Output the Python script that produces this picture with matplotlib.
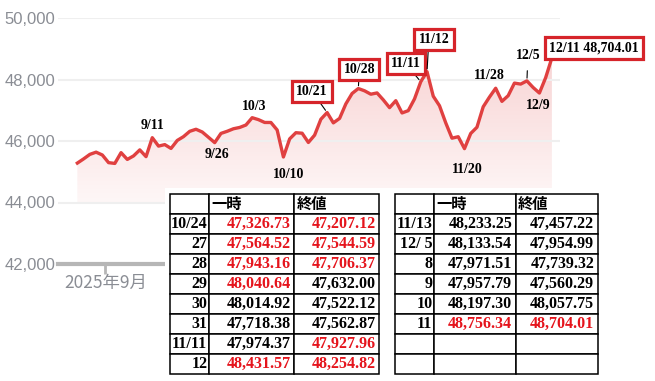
import numpy as np
import matplotlib
matplotlib.use('Agg')
import matplotlib.pyplot as plt
from matplotlib.colors import LinearSegmentedColormap
from matplotlib.patches import Polygon, Rectangle

# trading days (US close)
dates = ['08/25', '08/26', '08/27', '08/28', '08/29',
         '09/02', '09/03', '09/04', '09/05', '09/08', '09/09', '09/10', '09/11', '09/12',
         '09/15', '09/16', '09/17', '09/18', '09/19', '09/22', '09/23', '09/24', '09/25',
         '09/26', '09/29', '09/30',
         '10/01', '10/02', '10/03', '10/06', '10/07', '10/08', '10/09', '10/10', '10/13',
         '10/14', '10/15', '10/16', '10/17', '10/20', '10/21', '10/22', '10/23', '10/24',
         '10/27', '10/28', '10/29', '10/30', '10/31',
         '11/03', '11/04', '11/05', '11/06', '11/07', '11/10', '11/11', '11/12', '11/13',
         '11/14', '11/17', '11/18', '11/19', '11/20', '11/21', '11/24', '11/25', '11/26',
         '11/28',
         '12/01', '12/02', '12/03', '12/04', '12/05', '12/08', '12/09', '12/10', '12/11']
close = [45282, 45418, 45565, 45637, 45545,
         45296, 45271, 45621, 45401, 45515, 45711, 45491, 46108, 45834,
         45883, 45758, 46018, 46142, 46315, 46382, 46293, 46121, 45947,
         46247, 46316, 46398,
         46441, 46520, 46758, 46695, 46603, 46602, 46358, 45480, 46068,
         46270, 46253, 45952, 46191, 46707, 46925, 46590, 46735, 47207,
         47545, 47706, 47632, 47522, 47563,
         47337, 47085, 47311, 46912, 46987, 47369, 47928, 48255, 47457,
         47147, 46590, 46092, 46139, 45752, 46245, 46448, 47112, 47427,
         47716,
         47289, 47474, 47883, 47851, 47955, 47739, 47560, 48058, 48704.01]

y_ticks = [42000, 44000, 46000, 48000, 50000]
month_label = '2025年9月'

# label, date of the point, text offset (px), boxed
notes = [
    ('9/11', '09/11', (0, 12), False),
    ('9/26', '09/25', (2, -12), False),
    ('10/3', '10/03', (2, 11), False),
    ('10/10', '10/10', (5, -18), False),
    ('10/21', '10/21', (-15, 21), True),
    ('10/28', '10/28', (1, 19), True),
    ('11/11', '11/11', (-15, 18), True),
    ('11/12', '11/12', (7, 32), True),
    ('11/20', '11/20', (3, -21), False),
    ('11/28', '11/28', (-6, 13), False),
    ('12/5', '12/05', (1, 25), False),
    ('12/9', '12/09', (-1, -12), False),
]
last_label = '12/11 48,704.01'

header = ['', '一時', '終値']
left_rows = ['10/24', '27', '28', '29', '30', '31', '11/11', '12']
left_high = ['47,326.73', '47,564.52', '47,943.16', '48,040.64', '48,014.92', '47,718.38',
             '47,974.37', '48,431.57']
left_close = ['47,207.12', '47,544.59', '47,706.37', '47,632.00', '47,522.12', '47,562.87',
              '47,927.96', '48,254.82']
left_high_red = [1, 1, 1, 1, 0, 0, 0, 1]
left_close_red = [1, 1, 1, 0, 0, 0, 1, 1]
right_rows = ['11/13', '12/ 5', '8', '9', '10', '11', '', '']
right_high = ['48,233.25', '48,133.54', '47,971.51', '47,957.79', '48,197.30', '48,756.34', '', '']
right_close = ['47,457.22', '47,954.99', '47,739.32', '47,560.29', '48,057.75', '48,704.01', '', '']
right_high_red = [0, 0, 0, 0, 0, 1, 0, 0]
right_close_red = [0, 0, 0, 0, 0, 1, 0, 0]

W, H = 655, 381
RED = '#e04040'
BOX = '#d6242a'
TXT_RED = '#e5141c'
GRAY = '#8a8d94'
SERIF = 'Liberation Serif'
CJK = ['Noto Sans CJK JP', 'DejaVu Sans']


def px_rect(x0, y0, x1, y1):
    """pixel box (top-left origin) -> figure fraction rect"""
    return [x0 / W, 1 - y1 / H, (x1 - x0) / W, (y1 - y0) / H]


fig = plt.figure(figsize=(W / 100, H / 100), dpi=100)
ax = fig.add_axes(px_rect(58, 18, 560, 264))

x = np.arange(len(close))
ax.plot(x, close, color=RED, lw=2.4, zorder=3, solid_joinstyle='round')

# gradient fill under the line
base = 44000
cmap = LinearSegmentedColormap.from_list('fill', ['#fef7f7', '#f8d4d4'])
grad = np.linspace(1, 0, 256).reshape(-1, 1)
im = ax.imshow(grad, extent=[x[0], x[-1], base, max(close)], aspect='auto',
               cmap=cmap, vmin=0, vmax=1, zorder=1, interpolation='bilinear')
poly = Polygon(np.column_stack([np.r_[x, x[-1], x[0]], np.r_[close, base, base]]),
               closed=True, fc='none', ec='none')
ax.add_patch(poly)
im.set_clip_path(poly)

ax.set_xlim(-3.1, 77.3)
ax.set_ylim(42000, 50000)
ax.set_yticks(y_ticks)
ax.set_yticklabels([f'{v:,}' for v in y_ticks], fontsize=12, color=GRAY,
                   family='Liberation Sans')
ax.tick_params(axis='y', length=0, pad=2)
ax.grid(axis='y', color='#efefef', lw=1.5, zorder=0)
for s in ['left', 'top', 'right']:
    ax.spines[s].set_visible(False)
ax.spines['bottom'].set_color('#b6b6b6')
ax.spines['bottom'].set_linewidth(3)

sep_start = next(i for i, d in enumerate(dates) if d.startswith('09'))
ax.set_xticks([sep_start - 0.5])
ax.set_xticklabels([month_label], fontsize=12.5, color=GRAY, family=CJK)
ax.tick_params(axis='x', length=7, width=2, color='#b6b6b6', pad=0)

for label, d, off, boxed in notes:
    i = dates.index(d)
    kw = dict(fontsize=10, fontweight='bold', family=SERIF, ha='center', va='center',
              xy=(x[i], close[i]), xytext=off, textcoords='offset pixels',
              annotation_clip=False, zorder=5)
    if boxed:
        kw['bbox'] = dict(boxstyle='square,pad=0.3', fc='white', ec=BOX, lw=2.3)
        kw['arrowprops'] = dict(arrowstyle='-', color='black', lw=0.8, shrinkA=0, shrinkB=2)
        if label == '11/12':
            kw['arrowprops']['relpos'] = (0.32, 0)
    elif label == '12/5':
        kw['arrowprops'] = dict(arrowstyle='-', color='black', lw=0.8, shrinkA=4, shrinkB=2)
    ax.annotate(label, **kw)

ax.annotate(last_label, xy=(x[-1], close[-1]), xytext=(42, 10), textcoords='offset pixels',
            fontsize=10, fontweight='bold', family=SERIF, ha='center', va='center',
            annotation_clip=False, zorder=5,
            bbox=dict(boxstyle='square,pad=0.3', fc='white', ec=BOX, lw=2.3))

# white panel the tables sit on
fig.add_artist(Rectangle((165 / W, 0), (W - 165) / W, (H - 188) / H,
                         transform=fig.transFigure, fc='white', ec='none', zorder=2))


def draw_table(rect, rows, high, close_, high_red, close_red, widths):
    tax = fig.add_axes(rect, zorder=3)
    tax.axis('off')
    cells = [header] + [[r, h, c] for r, h, c in zip(rows, high, close_)]
    tb = tax.table(cellText=cells, colWidths=widths, bbox=[0, 0, 1, 1], cellLoc='right')
    tb.auto_set_font_size(False)
    for (r, c), cell in tb.get_celld().items():
        cell.set_linewidth(1.1)
        cell.set_edgecolor('black')
        t = cell.get_text()
        if r == 0:
            t.set_fontfamily(CJK)
            t.set_fontweight('bold')
            t.set_fontsize(11)
            t.set_ha('left')
            cell.PAD = 0.03
            continue
        t.set_fontfamily(SERIF)
        t.set_fontweight('bold')
        t.set_fontsize(11.5)
        cell.PAD = 0.04
        red = (c == 1 and high_red[r - 1]) or (c == 2 and close_red[r - 1])
        t.set_color(TXT_RED if red else 'black')
    return tb


draw_table(px_rect(169.5, 194, 379, 373.5), left_rows, left_high, left_close,
           left_high_red, left_close_red, [39.5, 85, 85])
draw_table(px_rect(395, 194, 597.5, 373.5), right_rows, right_high, right_close,
           right_high_red, right_close_red, [39, 81.5, 82])

fig.savefig('out.png', dpi=100)
